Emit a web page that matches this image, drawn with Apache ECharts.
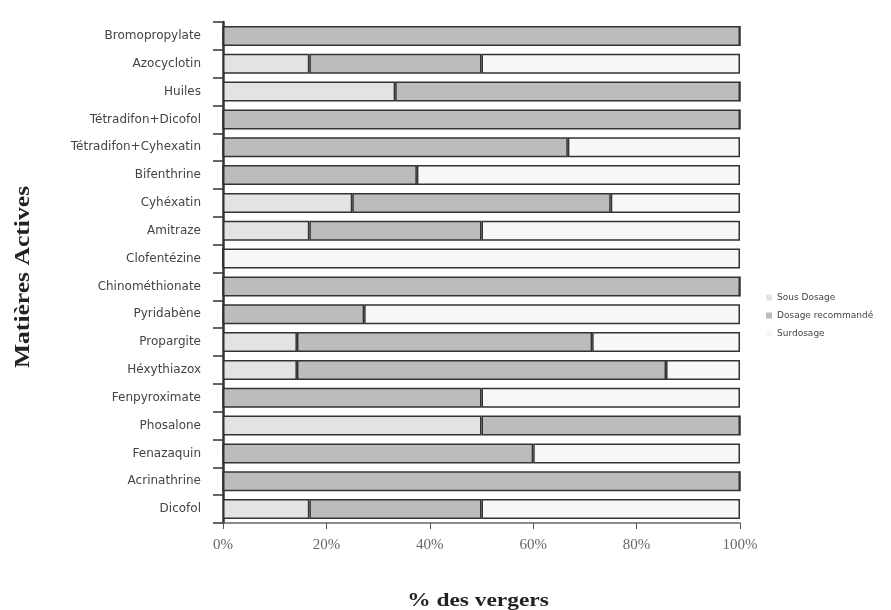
<!DOCTYPE html>
<html>
<head>
<meta charset="utf-8">
<script src="https://cdn.jsdelivr.net/npm/echarts@6/dist/echarts.min.js"></script>
<style>html,body{margin:0;padding:0;background:#fff}#c{width:891px;height:610px}</style>
</head>
<body>
<div id="c"></div>
<script>
var categories = ['Bromopropylate','Azocyclotin','Huiles','Tétradifon+Dicofol','Tétradifon+Cyhexatin','Bifenthrine','Cyhéxatin','Amitraze','Clofentézine','Chinométhionate','Pyridabène','Propargite','Héxythiazox','Fenpyroximate','Phosalone','Fenazaquin','Acrinathrine','Dicofol'];
var seriesNames = ['Sous Dosage','Dosage recommandé','Surdosage'];
var sousDosage = [0,16.7,33.3,0,0,0,25,16.7,0,0,0,14.3,14.3,0,50,0,0,16.7];
var dosageRecommande = [100,33.3,66.7,100,66.7,37.5,50,33.3,0,100,27.3,57.1,71.4,50,50,60,100,33.3];
var surdosage = [0,50,0,0,33.3,62.5,25,50,100,0,72.7,28.6,14.3,50,0,40,0,50];
var xTicks = ['0%','20%','40%','60%','80%','100%'];
var xTitle = '% des vergers';
var yTitle = 'Matières Actives';

var colors = ['#e3e3e3','#bcbcbc','#f7f7f7'];
var chart = echarts.init(document.getElementById('c'));
function mk(name, data, color) {
  return {
    name: name, type: 'bar', stack: 'total', data: data,
    barCategoryGap: '28%',
    itemStyle: {color: color, borderColor: '#333', borderWidth: 1.5},
    emphasis: {disabled: true}
  };
}
chart.setOption({
  animation: false,
  backgroundColor: '#fff',
  grid: {left: 223, right: 151, top: 22, bottom: 87},
  legend: {
    orient: 'vertical', left: 761, top: 288, itemWidth: 6, itemHeight: 6, itemGap: 9,
    icon: 'rect',
    itemStyle: {borderWidth: 0},
    textStyle: {fontSize: 9, color: '#444', fontFamily: 'DejaVu Sans'},
    data: seriesNames
  },
  graphic: [
    {type: 'text', x: 24, y: 277, rotation: Math.PI / 2, scaleX: 1.28,
     style: {text: yTitle, font: 'bold 20px "Liberation Serif"', fill: '#222', align: 'center', verticalAlign: 'middle'}},
    {type: 'text', x: 478, y: 601, scaleX: 1.3,
     style: {text: xTitle, font: 'bold 18px "Liberation Serif"', fill: '#222', align: 'center', verticalAlign: 'middle'}}
  ],
  xAxis: {
    type: 'value', min: 0, max: 100, interval: 20,
    axisLine: {show: true, lineStyle: {color: '#666', width: 1.5}},
    axisTick: {show: true, length: 6, lineStyle: {color: '#555'}},
    splitLine: {show: false},
    axisLabel: {
      margin: 15, fontSize: 15, color: '#666', fontFamily: 'Liberation Serif',
      formatter: function (v) { return xTicks[Math.round(v / 20)]; }
    }
  },
  yAxis: {
    type: 'category', data: categories, inverse: true,
    axisLine: {show: true, lineStyle: {color: '#333', width: 2.5}},
    axisTick: {show: true, length: 10, lineStyle: {color: '#333', width: 1.5}},
    axisLabel: {margin: 22, fontSize: 12, color: '#444', fontFamily: 'DejaVu Sans'}
  },
  series: [
    mk(seriesNames[0], sousDosage, colors[0]),
    mk(seriesNames[1], dosageRecommande, colors[1]),
    mk(seriesNames[2], surdosage, colors[2])
  ]
});
</script>
</body>
</html>
